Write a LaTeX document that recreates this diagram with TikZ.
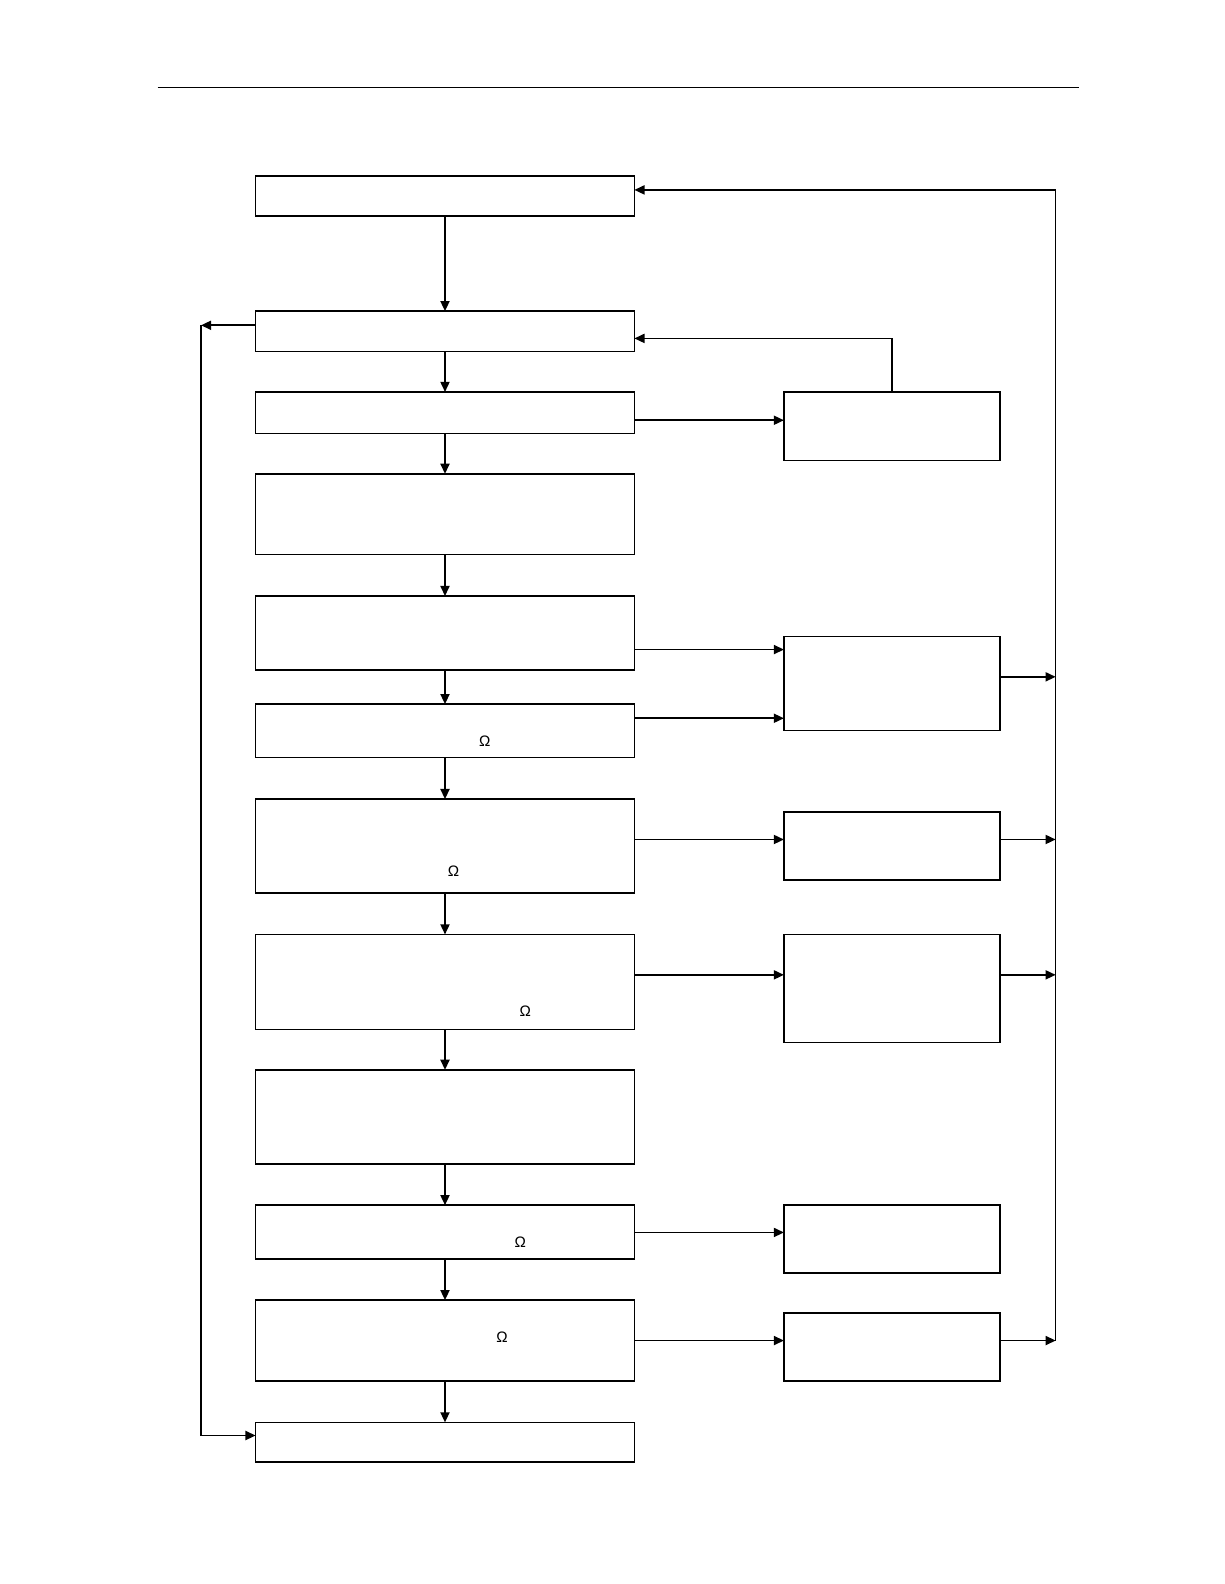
\documentclass[tikz,border=0pt]{standalone}
\usepackage{fontspec}
\setmainfont{Liberation Sans}
\usetikzlibrary{arrows.meta,positioning,calc}

\begin{document}
\begin{tikzpicture}[x=0.5pt,y=-0.5pt,line width=0.8pt,
    mainbox/.style={draw,minimum width=187.5pt,inner sep=0pt,outer sep=0pt},
    sidebox/.style={draw,minimum width=107pt,inner sep=0pt,outer sep=0pt},
    arr/.style={-{Triangle[length=5pt,width=4.5pt]}},
    ohm/.style={font=\fontsize{7.5}{8}\selectfont,inner sep=0pt}]
  \useasboundingbox (0,0) rectangle (1212,1568);
  % header rule
  \draw[line width=0.5pt] (156,87) -- (1068,87);
  % main column
  \node[mainbox,minimum height=20pt] (m1) at (440.5,194) {};
  \node[mainbox,minimum height=20pt] (m2) at (440.5,328) {};
  \node[mainbox,minimum height=20.5pt] (m3) at (440.5,408.5) {};
  \node[mainbox,minimum height=40pt] (m4) at (440.5,509) {};
  \node[mainbox,minimum height=36.5pt] (m5) at (440.5,626.5) {};
  \node[mainbox,minimum height=26.5pt] (m6) at (440.5,723.5) {};
  \node[mainbox,minimum height=46.5pt] (m7) at (440.5,837.5) {};
  \node[mainbox,minimum height=47pt] (m8) at (440.5,972) {};
  \node[mainbox,minimum height=46.5pt] (m9) at (440.5,1105.5) {};
  \node[mainbox,minimum height=26.5pt] (m10) at (440.5,1219.5) {};
  \node[mainbox,minimum height=40pt] (m11) at (440.5,1327) {};
  \node[mainbox,minimum height=19.5pt] (m12) at (440.5,1427.5) {};
  % omega labels
  \node[ohm] (o6) at (480,734) {Ω};
  \node[ohm] (o7) at (449,862) {Ω};
  \node[ohm] (o8) at (520,1001) {Ω};
  \node[ohm] (o10) at (515,1230) {Ω};
  \node[ohm] (o11) at (497,1324) {Ω};
  % side column
  \node[sidebox,minimum height=34pt] (s1) at (883,422) {};
  \node[sidebox,minimum height=46.5pt] (s2) at (883,676.5) {};
  \node[sidebox,minimum height=33.5pt] (s3) at (883,837.5) {};
  \node[sidebox,minimum height=53.5pt] (s4) at (883,978.5) {};
  \node[sidebox,minimum height=33.5pt] (s5) at (883,1226.5) {};
  \node[sidebox,minimum height=33.5pt] (s6) at (883,1333.5) {};
  % bus lines
  \coordinate (lb) at (199,322);
  \coordinate (rb) at (1045,188);
  \coordinate (rbot) at (1045,1327);
  % down the main column
  \foreach \a/\b in {m1/m2,m2/m3,m3/m4,m4/m5,m5/m6,m6/m7,m7/m8,m8/m9,m9/m10,m10/m11,m11/m12}
    \draw[arr] (\a.south) -- (\b.north);
  % to the side boxes
  \draw[arr] (m3.east |- 0,416) -- (s1.west |- 0,416);
  \draw[arr] (s1.north) |- (m2.east |- 0,335);
  \draw[arr] (m5.east |- 0,643) -- (s2.west |- 0,643);
  \draw[arr] (m6.east |- 0,711) -- (s2.west |- 0,711);
  \draw[arr] (m7.east |- 0,831) -- (s3.west |- 0,831);
  \draw[arr] (m8.east |- 0,965) -- (s4.west |- 0,965);
  \draw[arr] (m10.east |- 0,1220) -- (s5.west |- 0,1220);
  \draw[arr] (m11.east |- 0,1327) -- (s6.west |- 0,1327);
  % right bus back to the top
  \draw (rbot) -- (rb);
  \draw[arr] (rb) -- (m1.east |- rb);
  \draw[arr] (s2.east |- 0,670) -- (rbot |- 0,670);
  \draw[arr] (s3.east |- 0,831) -- (rbot |- 0,831);
  \draw[arr] (s4.east |- 0,965) -- (rbot |- 0,965);
  \draw[arr] (s6.east |- 0,1327) -- (rbot);
  % left bus
  \draw[arr] (m2.west |- lb) -- (lb);
  \draw[arr] (lb) -- (199,1421) -- (m12.west |- 0,1421);
\end{tikzpicture}
\end{document}
